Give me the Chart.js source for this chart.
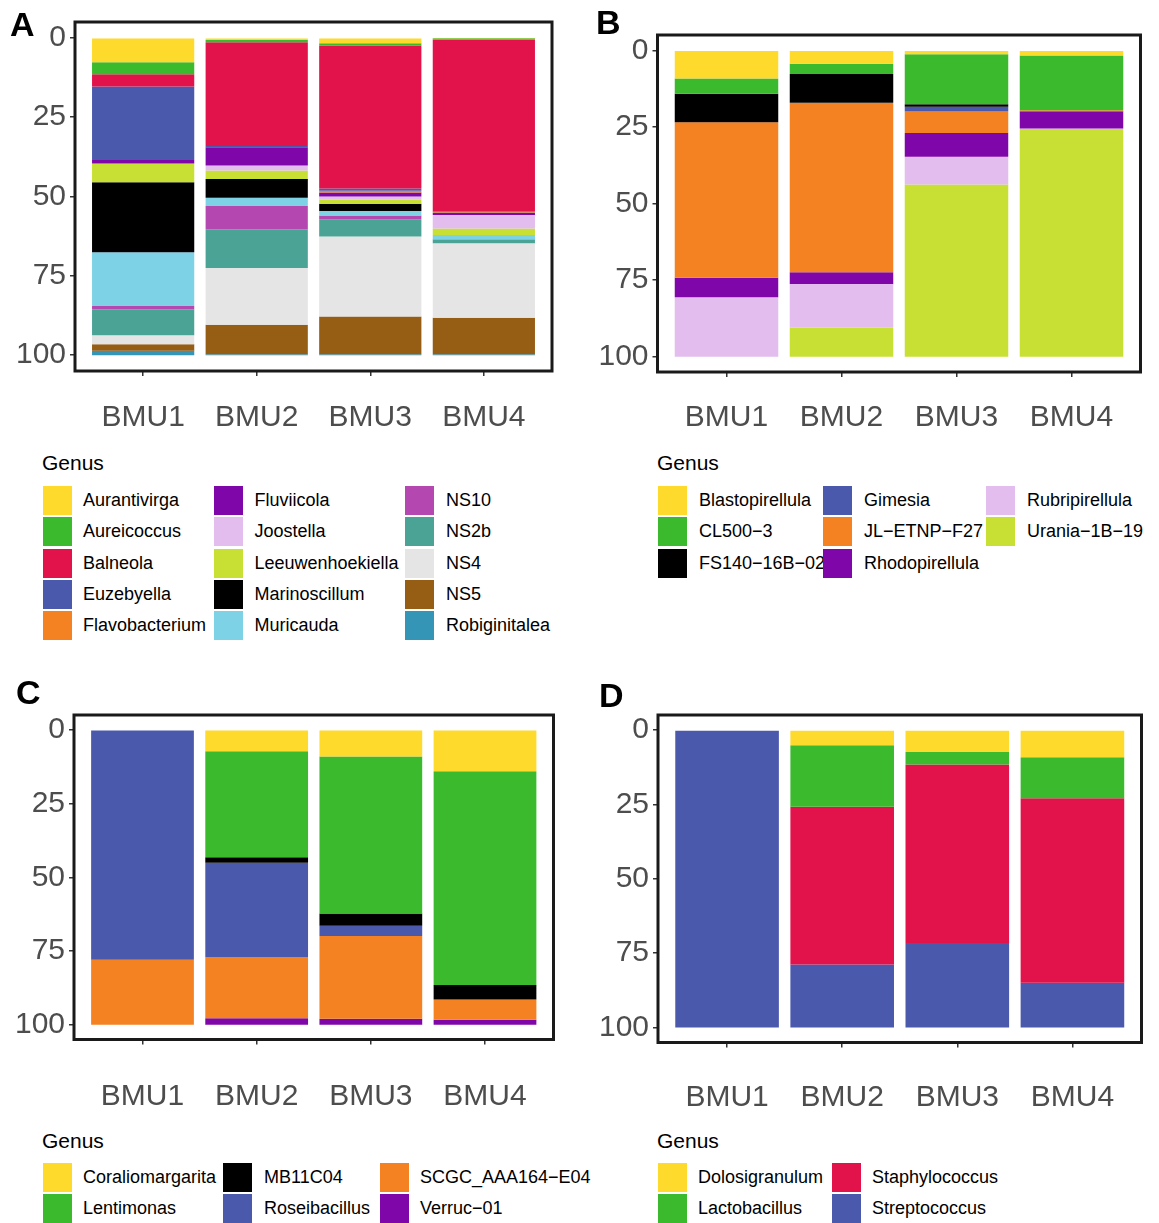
<!DOCTYPE html>
<html>
<head>
<meta charset="utf-8">
<script src="https://cdn.jsdelivr.net/npm/chart.js@4.4.1/dist/chart.umd.min.js"></script>
<style>
  html, body { margin: 0; padding: 0; background: #fff; }
  body { width: 1159px; height: 1223px; position: relative; overflow: hidden;
         font-family: "Liberation Sans", Arial, Helvetica, sans-serif; }
  canvas { position: absolute; }
  .tag { position: absolute; font-weight: bold; font-size: 34px; line-height: 34px; color: #000; }
  .ltitle { position: absolute; font-size: 21px; line-height: 21px; color: #000; }
  .key { position: absolute; width: 29px; height: 29px; }
  .klab { position: absolute; font-size: 18px; line-height: 29px; height: 29px; color: #000; white-space: nowrap; }
</style>
</head>
<body>
<canvas id="chartA" width="580" height="445" style="left:0px;top:0px"></canvas>
<canvas id="chartB" width="579" height="445" style="left:580px;top:0px"></canvas>
<canvas id="chartC" width="580" height="460" style="left:0px;top:660px"></canvas>
<canvas id="chartD" width="579" height="460" style="left:580px;top:660px"></canvas>

<div class="tag" style="left:10px;top:7px">A</div>
<div class="tag" style="left:596px;top:5px">B</div>
<div class="tag" style="left:16px;top:675px">C</div>
<div class="tag" style="left:599px;top:678px">D</div>

<script>
// Sampling sites shared by all four panels
const categories = ['BMU1', 'BMU2', 'BMU3', 'BMU4'];
const yTicks = [0, 25, 50, 75, 100];

// Panel A — relative abundance (%) per genus; one row per genus, one column per site
const genusA = ['Aurantivirga', 'Aureicoccus', 'Balneola', 'Euzebyella', 'Flavobacterium',
  'Fluviicola', 'Joostella', 'Leeuwenhoekiella', 'Marinoscillum', 'Muricauda',
  'NS10', 'NS2b', 'NS4', 'NS5', 'Robiginitalea'];
const shareA = [
  [7.7, 0.7, 1.7, 0.1],
  [3.8, 0.7, 0.7, 0.5],
  [3.8, 32.7, 45.1, 54.1],
  [23.2, 0.4, 0.7, 0.3],
  [0.0, 0.0, 0.5, 0.2],
  [1.1, 5.7, 1.3, 0.6],
  [0.0, 1.6, 1.0, 4.3],
  [5.9, 2.7, 1.3, 2.0],
  [22.1, 5.9, 2.3, 0.0],
  [16.9, 2.6, 1.4, 1.4],
  [1.1, 7.3, 1.2, 0.1],
  [8.1, 12.2, 5.4, 1.1],
  [2.9, 17.9, 25.2, 23.5],
  [2.0, 9.3, 11.9, 11.5],
  [1.4, 0.3, 0.3, 0.3]
];

// Panel B
const genusB = ['Blastopirellula', 'CL500\u22123', 'FS140\u221216B\u221202', 'Gimesia',
  'JL\u2212ETNP\u2212F27', 'Rhodopirellula', 'Rubripirellula', 'Urania\u22121B\u221219'];
const shareB = [
  [9.2, 4.4, 1.3, 1.7],
  [5.0, 3.3, 16.3, 17.9],
  [9.3, 9.4, 0.8, 0.0],
  [0.0, 0.0, 1.6, 0.0],
  [50.7, 55.3, 7.0, 0.3],
  [6.4, 3.9, 7.7, 5.6],
  [19.4, 14.2, 9.1, 0.2],
  [0.0, 9.5, 56.2, 74.3]
];

// Panel C
const genusC = ['Coraliomargarita', 'Lentimonas', 'MB11C04', 'Roseibacillus',
  'SCGC_AAA164\u2212E04', 'Verruc\u221201'];
const shareC = [
  [0.0, 7.3, 9.1, 14.1],
  [0.0, 35.9, 53.2, 72.4],
  [0.0, 1.9, 4.1, 4.9],
  [78.0, 31.9, 3.5, 0.0],
  [22.0, 20.8, 28.1, 6.9],
  [0.0, 2.2, 2.0, 1.7]
];

// Panel D
const genusD = ['Dolosigranulum', 'Lactobacillus', 'Staphylococcus', 'Streptococcus'];
const shareD = [
  [0.0, 5.2, 7.4, 9.2],
  [0.0, 20.6, 4.2, 13.8],
  [0.0, 53.0, 60.0, 61.9],
  [100.0, 21.2, 28.4, 15.1]
];

// Fill colours
const C_YEL = '#FDDA2C', C_GRN = '#3CBA2E', C_RED = '#E2134A', C_BLU = '#4B59AD',
      C_ORA = '#F48122', C_PUR = '#7F06A8', C_LPU = '#E2BDEE', C_LIM = '#C8E033',
      C_BLK = '#000000', C_CYA = '#7DD2E6', C_MAG = '#B548B0', C_TEA = '#4BA396',
      C_GRY = '#E5E5E5', C_BRN = '#965D14', C_STB = '#3595B6';
const paletteA = [C_YEL, C_GRN, C_RED, C_BLU, C_ORA, C_PUR, C_LPU, C_LIM, C_BLK, C_CYA, C_MAG, C_TEA, C_GRY, C_BRN, C_STB];
const paletteB = [C_YEL, C_GRN, C_BLK, C_BLU, C_ORA, C_PUR, C_LPU, C_LIM];
const paletteC = [C_YEL, C_GRN, C_BLK, C_BLU, C_ORA, C_PUR];
const paletteD = [C_YEL, C_GRN, C_RED, C_BLU];

const FONT = "'Liberation Sans', Arial, Helvetica, sans-serif";

// Thick panel border around the plotting area
const framePlugin = {
  id: 'panelFrame',
  afterDraw(chart) {
    const { ctx, chartArea: a } = chart;
    ctx.save();
    ctx.lineWidth = 3;
    ctx.strokeStyle = '#1a1a1a';
    ctx.strokeRect(a.left, a.top, a.right - a.left, a.bottom - a.top);
    ctx.restore();
  }
};

function drawPanel(canvasId, genus, shares, palette, g) {
  const datasets = genus.map((name, k) => ({
    label: name,
    data: categories.map((c, i) => ({ x: i + 1, y: shares[k][i] })),
    backgroundColor: palette[k],
    borderWidth: 0,
    barPercentage: 0.9,
    categoryPercentage: 1.0
  }));
  const tickGrid = { display: true, drawOnChartArea: false, drawTicks: true,
                     tickLength: 5, color: '#333333', lineWidth: 1.5, offset: false };
  new Chart(document.getElementById(canvasId), {
    type: 'bar',
    data: { datasets },
    options: {
      responsive: false,
      animation: false,
      events: [],
      layout: { autoPadding: false, padding: { top: g.padTop, right: g.padRight, left: 0, bottom: 0 } },
      plugins: { legend: { display: false }, tooltip: { enabled: false } },
      scales: {
        x: {
          type: 'linear', stacked: true, min: 0.4, max: 4.6, offset: false,
          afterFit: s => { s.height = g.xAxisH; },
          afterBuildTicks: s => { s.ticks = categories.map((c, i) => ({ value: i + 1 })); },
          ticks: { callback: v => categories[Math.round(v) - 1], autoSkip: false, maxRotation: 0,
                   font: { family: FONT, size: 30 }, color: '#4d4d4d', padding: g.xPad },
          grid: tickGrid,
          border: { display: false }
        },
        y: {
          type: 'linear', stacked: true, reverse: true, min: -5, max: 105,
          afterFit: s => { s.width = g.yAxisW; },
          afterBuildTicks: s => { s.ticks = yTicks.map(v => ({ value: v })); },
          ticks: { font: { family: FONT, size: 30 }, color: '#4d4d4d', padding: 4 },
          grid: tickGrid,
          border: { display: false }
        }
      }
    },
    plugins: [framePlugin]
  });
}

drawPanel('chartA', genusA, shareA, paletteA, { yAxisW: 75,   padTop: 15, padRight: 28,   xAxisH: 74,   xPad: 24 });
drawPanel('chartB', genusB, shareB, paletteB, { yAxisW: 77.5, padTop: 35, padRight: 18.5, xAxisH: 73,   xPad: 23 });
drawPanel('chartC', genusC, shareC, paletteC, { yAxisW: 74,   padTop: 55, padRight: 26.5, xAxisH: 80.5, xPad: 34 });
drawPanel('chartD', genusD, shareD, paletteD, { yAxisW: 78,   padTop: 55, padRight: 17.5, xAxisH: 77.5, xPad: 32 });

// Legends: keys fill each column top to bottom
function drawLegend(genus, palette, lg) {
  const title = document.createElement('div');
  title.className = 'ltitle';
  title.textContent = 'Genus';
  title.style.left = lg.x + 'px';
  title.style.top = lg.titleTop + 'px';
  document.body.appendChild(title);
  const keys = [];
  genus.forEach((name, k) => {
    const col = Math.floor(k / lg.rows), row = k % lg.rows;
    const top = lg.rowTop + row * 31.3;
    const lab = document.createElement('div');
    lab.className = 'klab';
    lab.textContent = name;
    lab.style.left = lg.textX[col] + 'px';
    lab.style.top = top + 'px';
    document.body.appendChild(lab);
    const key = document.createElement('div');
    key.className = 'key';
    key.style.background = palette[k];
    key.style.left = lg.keyX[col] + 'px';
    key.style.top = top + 'px';
    keys.push(key);
  });
  keys.forEach(k => document.body.appendChild(k));
}

drawLegend(genusA, paletteA, { x: 42, titleTop: 452, rowTop: 486, rows: 5,
  keyX: [42.5, 214, 405], textX: [83, 254.5, 446] });
drawLegend(genusB, paletteB, { x: 657, titleTop: 452, rowTop: 486, rows: 3,
  keyX: [657.5, 823, 986], textX: [699, 864, 1027] });
drawLegend(genusC, paletteC, { x: 42, titleTop: 1130, rowTop: 1163, rows: 2,
  keyX: [42.7, 223, 380], textX: [83, 264, 420] });
drawLegend(genusD, paletteD, { x: 657, titleTop: 1130, rowTop: 1163, rows: 2,
  keyX: [658, 832], textX: [698, 872] });
</script>
</body>
</html>
